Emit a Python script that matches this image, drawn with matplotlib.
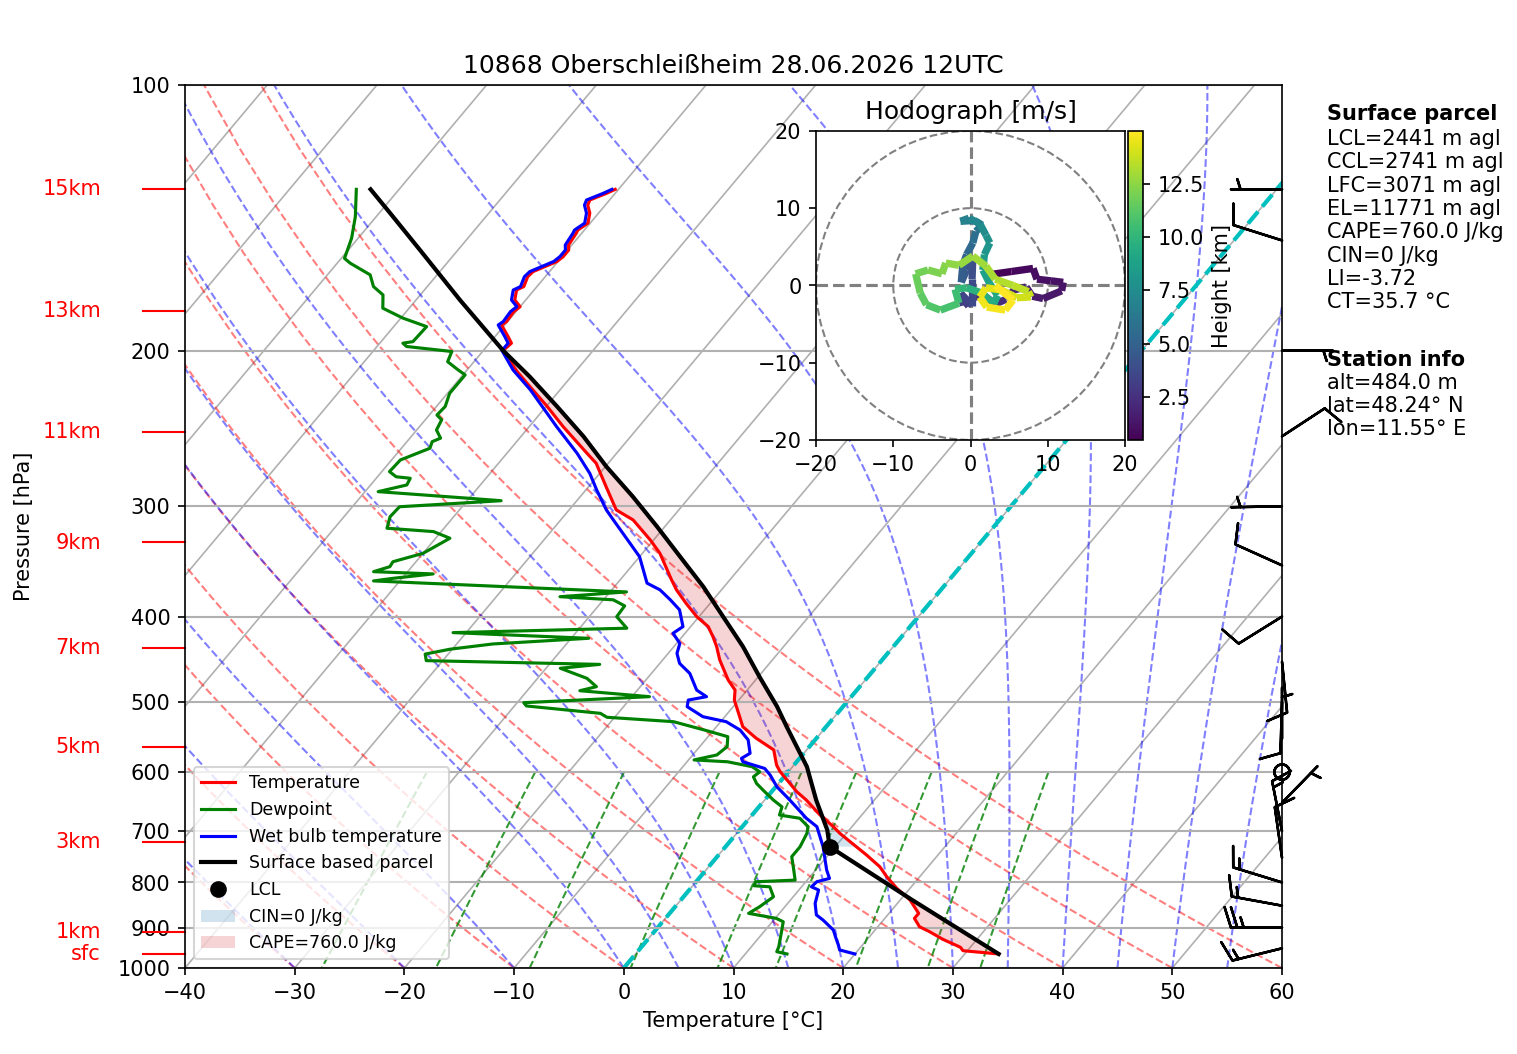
import numpy as np
import matplotlib
matplotlib.use('Agg')
import matplotlib.pyplot as plt
from matplotlib import transforms
from matplotlib.collections import LineCollection
from matplotlib.colors import Normalize
from matplotlib.lines import Line2D
from matplotlib.patches import Patch, Circle
from matplotlib.ticker import NullLocator

# sounding data (hPa, degC)
temp_p = [964.1, 955.9, 947.4, 928.0, 909.7, 898.0, 878.6, 867.2, 837.6, 812.5,
          788.3, 768.0, 744.9, 703.9, 691.8, 671.1, 645.4, 631.6, 598.9, 588.9,
          566.3, 549.3, 533.0, 514.8, 497.3, 484.5, 471.9, 447.9, 432.6, 421.5,
          410.6, 400.1, 386.4, 373.1, 363.6, 339.2, 327.6, 310.9, 302.9, 285.1,
          268.2, 261.3, 243.8, 231.3, 219.6, 211.2, 203.1, 199.9, 196.1, 192.8,
          187.0, 185.4, 180.6, 178.3, 175.2, 170.7, 169.2, 164.9, 162.7, 160.3,
          158.5, 156.5, 153.8, 151.8, 147.2, 146.0, 143.4, 139.7, 136.8, 135.0,
          132.7, 131.3]
temp_t = [33.1, 29.6, 29.1, 26.9, 25.1, 23.8, 22.7, 22.7, 20.9, 18.8,
          17.0, 15.6, 13.5, 9.4, 8.3, 6.2, 3.8, 2.3, -0.8, -1.6,
          -3.0, -5.5, -7.6, -9.0, -10.4, -11.1, -12.5, -14.8, -16.1, -17.2,
          -18.4, -20.2, -22.2, -24.1, -25.3, -28.4, -30.3, -33.4, -35.7, -38.4,
          -41.1, -42.7, -46.9, -49.9, -53.0, -55.3, -57.4, -58.2, -58.0, -58.8,
          -60.3, -60.1, -60.2, -60.0, -61.0, -61.6, -61.2, -61.6, -61.5, -60.7,
          -60.1, -59.9, -59.9, -60.3, -60.5, -60.6, -60.2, -60.8, -61.6, -61.8,
          -60.8, -60.3]

wb_p = [964.1, 954.1, 941.8, 921.6, 905.7, 882.5, 870.8, 844.9, 816.1, 809.2,
        798.7, 791.7, 774.5, 729.0, 691.8, 676.8, 645.4, 623.4, 604.7, 594.4,
        584.1, 578.9, 571.3, 551.7, 537.6, 526.1, 519.3, 505.9, 497.3, 492.9,
        484.5, 463.9, 451.9, 440.3, 429.0, 417.8, 410.6, 393.0, 382.9, 373.1,
        366.6, 342.2, 330.4, 310.9, 302.9, 287.6, 275.4, 261.3, 243.8, 221.5,
        210.3, 199.9, 196.1, 192.8, 187.0, 185.4, 180.6, 178.3, 175.2, 170.7,
        169.2, 164.9, 162.7, 160.3, 158.5, 156.5, 153.8, 151.8, 147.2, 146.0,
        143.4, 139.7, 136.8, 135.0, 132.7, 131.3]
wb_t = [20.0, 18.3, 17.8, 16.9, 16.2, 14.5, 13.5, 12.5, 11.8, 10.9,
        11.0, 11.9, 11.0, 8.9, 6.8, 5.2, 2.3, 0.1, -1.4, -2.4,
        -4.9, -5.3, -4.9, -6.1, -7.6, -9.5, -12.0, -14.2, -14.6, -13.2,
        -14.6, -16.5, -18.2, -19.2, -19.7, -21.1, -20.7, -22.3, -23.9, -25.6,
        -27.3, -30.0, -31.9, -35.2, -36.6, -39.0, -40.9, -43.6, -47.5, -52.7,
        -55.8, -58.3, -58.3, -59.1, -60.6, -60.4, -60.5, -60.3, -61.3, -61.9,
        -61.5, -61.9, -61.8, -61.0, -60.4, -60.2, -60.2, -60.6, -60.8, -60.9,
        -60.5, -61.1, -61.9, -62.1, -61.1, -60.6]

dew_p = [964.1, 958.4, 946.0, 929.6, 905.7, 886.4, 878.6, 867.2, 852.3, 830.5,
         809.2, 807.0, 798.7, 795.2, 774.5, 748.1, 729.0, 703.9, 691.8, 676.8,
         671.1, 656.9, 645.4, 628.9, 618.1, 607.4, 599.6, 591.6, 584.1, 581.3,
         573.8, 561.5, 547.1, 538.5, 526.1, 520.1, 514.8, 505.0, 500.7, 492.9,
         485.3, 480.2, 469.9, 457.7, 453.1, 448.7, 441.1, 435.5, 429.6, 423.3,
         417.1, 412.3, 400.1, 389.0, 382.9, 379.8, 375.1, 364.5, 362.0, 357.9,
         355.8, 351.2, 346.7, 339.2, 326.1, 320.5, 317.7, 308.3, 300.4, 295.7,
         293.9, 288.8, 283.8, 278.9, 277.8, 274.1, 265.9, 257.9, 253.5, 251.2,
         245.9, 239.5, 236.5, 231.3, 223.5, 213.0, 210.3, 205.8, 200.4, 197.8,
         196.1, 195.3, 187.8, 183.7, 179.0, 172.9, 169.2, 164.1, 159.2, 157.2,
         149.1, 141.0, 131.3]
dew_t = [13.8, 12.7, 12.5, 12.1, 11.5, 11.0, 10.1, 7.2, 7.7, 8.2,
         7.1, 5.6, 5.4, 8.9, 8.0, 6.8, 6.8, 6.4, 6.0, 4.6,
         2.5, 2.1, 0.8, -0.9, -2.0, -2.8, -2.6, -3.7, -6.3, -9.5,
         -7.8, -7.5, -8.2, -10.6, -14.3, -20.7, -21.6, -28.9, -29.4, -18.4,
         -25.2, -24.0, -25.5, -28.7, -25.4, -41.5, -42.1, -40.2, -36.7, -28.4,
         -41.2, -25.7, -27.5, -27.6, -29.1, -34.2, -28.5, -52.4, -50.8, -47.5,
         -53.1, -52.0, -52.1, -50.0, -48.7, -50.7, -55.2, -55.8, -55.7, -46.9,
         -49.9, -58.8, -56.7, -56.9, -58.3, -59.3, -59.2, -57.4, -57.7, -57.2,
         -58.2, -58.5, -59.3, -59.2, -59.8, -59.8, -60.8, -62.4, -62.8, -67.3,
         -67.9, -67.1, -67.0, -69.8, -72.4, -73.4, -74.9, -76.1, -78.8, -79.7,
         -80.6, -81.9, -83.9]

parcel_p = [964.1, 837.6, 729.0, 697.8, 645.4, 591.6, 533.0, 505.9, 467.9, 432.6,
            400.1, 370.0, 342.2, 316.4, 292.6, 270.6, 250.1, 231.3, 213.9, 199.9,
            175.2, 154.5, 139.7, 131.3]
parcel_t = [33.1, 21.1, 9.5, 8.0, 4.7, 1.3, -3.6, -6.0, -9.9, -13.7,
            -17.8, -21.9, -26.3, -30.7, -35.2, -39.9, -44.3, -49.0, -53.8, -58.2,
            -66.0, -73.2, -79.0, -82.6]

lcl_p, lcl_t = 729.0, 9.5
lfc_p = 665.0

# wind barbs (kt)
barb_p = [950, 900, 850, 800, 750, 700, 650, 600, 550, 500, 450, 400, 350, 300,
          250, 200, 150, 131.3]
barb_u = [14.6, 25.0, 14.8, 14.3, 1.4, 2.9, -3.5, 0.0, 0.0, 0.3, -1.0, 8.5, 9.1,
          5.0, -8.4, -5.0, 9.5, 5.0]
barb_v = [3.6, 0.0, -2.7, -4.4, -9.8, -14.7, -3.6, 0.0, -5.0, 10.0, 10.0, 5.3,
          -4.1, 0.1, -5.5, 0.0, -3.0, 0.0]

# hodograph (km, m/s)
hodo_h = [0.5, 0.7, 0.9, 1.0, 1.1, 1.2, 1.3, 1.45, 1.6, 1.8, 2.0, 2.2, 2.4, 2.6,
          2.8, 3.0, 3.3, 3.5, 3.8, 4.0, 4.3, 4.6, 4.9, 5.2, 5.5, 5.8, 6.2, 6.5,
          6.8, 7.0, 7.3, 7.6, 7.9, 8.2, 8.5, 8.8, 9.1, 9.3, 9.6, 9.9, 10.2, 10.6,
          10.9, 11.2, 11.5, 11.8, 12.0, 12.2, 12.4, 12.6, 12.8, 13.0, 13.2, 13.4,
          13.6, 13.8, 14.0, 14.2, 14.4, 14.6, 14.75, 14.85, 14.95, 15.0]
hodo_u = [2.5, 5.3, 8.1, 8.6, 10.4, 12.0, 11.8, 9.4, 8.0, 7.2, 5.6, 4.6, 3.2, 1.6,
          0.4, -0.9, -1.3, 0.2, 0.2, 0.3, -0.5, -1.2, -1.0, -0.5, 0.3, 0.7, 1.5, 0.5,
          -1.3, -0.2, 1.2, 2.0, 2.5, 1.8, 1.6, 2.5, 3.5, 3.0, 1.5, -0.5, -2.0, -1.5,
          -3.9, -5.7, -6.5, -7.1, -5.5, -3.7, -3.2, -1.5, 0.3, 2.0, 3.2, 5.5,
          7.5, 7.8, 6.0, 4.0, 2.0, 1.2, 2.1, 4.5, 5.5, 3.2]
hodo_v = [1.4, 1.8, 2.2, 0.8, 0.6, 0.4, -0.7, -1.7, -1.4, -0.2, -0.6, -1.8, -2.4, -1.2,
          -1.6, -2.6, -1.0, -2.6, 0.8, 3.6, 2.0, 0.4, 2.6, 4.0, 5.5, 7.0, 7.8, 8.4,
          8.3, 8.7, 8.0, 6.5, 5.5, 4.0, 2.0, 0.2, -1.3, -2.4, -1.0, -0.3, -0.5, -2.3,
          -3.2, -2.5, -1.0, 1.5, 2.0, 1.5, 2.9, 2.6, 3.8, 2.5, 0.8, 0.0,
          -0.8, -1.5, -1.6, -0.6, -0.3, -1.5, -2.8, -3.2, -1.9, 0.0]

height_labels = ['15km', '13km', '11km', '9km', '7km', '5km', '3km', '1km', 'sfc']
height_p = [131.2, 180.3, 247.0, 329.7, 434.5, 562.5, 719.5, 910.5, 964.1]

parcel_lines = ['LCL=2441 m agl', 'CCL=2741 m agl', 'LFC=3071 m agl',
                'EL=11771 m agl', 'CAPE=760.0 J/kg', 'CIN=0 J/kg', 'LI=-3.72',
                'CT=35.7 °C']
station_lines = ['alt=484.0 m', 'lat=48.24° N', 'lon=11.55° E']

SKEW = 67.5  # degC of x shift per decade of pressure


def skx(t, p):
    return np.asarray(t, dtype=float) + SKEW * np.log10(1000.0 / np.asarray(p, dtype=float))


def moist_lines(t0, pres):
    Rd, Cp, Lv, eps = 287.04749, 1004.6662, 2.50084e6, 0.6219569

    def dtdp(t, p):
        es = 6.112 * np.exp(17.67 * (t - 273.15) / (t - 29.65))
        rs = eps * es / (p - es)
        return (Rd * t + Lv * rs) / (Cp + Lv * Lv * rs * eps / (Rd * t * t)) / p

    t = np.asarray(t0, dtype=float) + 273.15
    out = [t.copy()]
    for i in range(1, len(pres)):
        p0, h = pres[i - 1], pres[i] - pres[i - 1]
        k1 = dtdp(t, p0)
        k2 = dtdp(t + h * k1 / 2, p0 + h / 2)
        k3 = dtdp(t + h * k2 / 2, p0 + h / 2)
        k4 = dtdp(t + h * k3, p0 + h)
        t = t + h * (k1 + 2 * k2 + 2 * k3 + k4) / 6
        out.append(t.copy())
    return np.array(out).T - 273.15


fig = plt.figure(figsize=(10.1134, 7.0274), dpi=150)
ax = fig.add_axes([0.12195, 0.08159, 0.72314, 0.83776])
ax.set_yscale('log')

# background: isotherms, dry/moist adiabats, mixing ratio lines
for t in range(-130, 61, 10):
    ax.plot(skx([t, t], [1000, 100]), [1000, 100], color='#b0b0b0', lw=0.8, zorder=0.8)

pp = np.linspace(1000, 100, 50)
for t0 in np.arange(-40, 61, 10):
    td = (t0 + 273.15) * (pp / 1000.0) ** 0.2857 - 273.15
    ax.plot(skx(td, pp), pp, color='r', ls='--', lw=1, alpha=0.5, zorder=1)

pm = np.linspace(1000, 100, 200)
t0m = np.concatenate((np.arange(-40, 0, 10), np.arange(0, 61, 5)))
for tm in moist_lines(t0m, pm):
    ax.plot(skx(tm, pm), pm, color='b', ls='--', lw=1, alpha=0.5, zorder=1)

pw = np.linspace(600, 1000, 50)
for w in [0.0004, 0.001, 0.002, 0.004, 0.007, 0.01, 0.016, 0.024, 0.032]:
    e = pw * w / (0.6219569 + w)
    le = np.log(e / 6.112)
    tdw = 243.5 * le / (17.67 - le)
    ax.plot(skx(tdw, pw), pw, color='g', ls='--', lw=1, alpha=0.8, zorder=1)

ax.plot(skx([0, 0], [1000, 100]), [1000, 100], color='c', ls='--', lw=2, zorder=1.5)

# CAPE / CIN shading
pg = np.geomspace(964.1, 131.3, 3000)
tt = np.interp(np.log(pg), np.log(temp_p[::-1]), temp_t[::-1])
tp = np.interp(np.log(pg), np.log(parcel_p[::-1]), parcel_t[::-1])
ax.fill_betweenx(pg, skx(tt, pg), skx(tp, pg), where=tp > tt, interpolate=True,
                 facecolor='tab:red', alpha=0.2, lw=0)
cin = (tp < tt) & (pg <= lcl_p) & (pg >= lfc_p)
ax.fill_betweenx(pg, skx(tt, pg), skx(tp, pg), where=cin, interpolate=True,
                 facecolor='tab:blue', alpha=0.2, lw=0)

ax.plot(skx(temp_t, temp_p), temp_p, color='red', lw=1.5)
ax.plot(skx(dew_t, dew_p), dew_p, color='green', lw=1.5)
ax.plot(skx(wb_t, wb_p), wb_p, color='blue', lw=1.5)
ax.plot(skx(parcel_t, parcel_p), parcel_p, color='black', lw=2)
ax.plot(skx([lcl_t], [lcl_p]), [lcl_p], 'ko', ms=7)

ax.barbs(np.full(len(barb_p), 60.0), barb_p, barb_u, barb_v, clip_on=False, lw=1.2, zorder=4)

ax.set_xlim(-40, 60)
ax.set_ylim(1000, 100)
ax.set_yticks(list(range(100, 1001, 100)))
ax.set_yticklabels([str(v) for v in range(100, 1001, 100)])
ax.yaxis.set_minor_locator(NullLocator())
ax.set_xticks(list(range(-40, 61, 10)))
ax.yaxis.grid(True, color='#b0b0b0', lw=1)
ax.set_xlabel('Temperature [°C]')
ax.set_ylabel('Pressure [hPa]')
ax.yaxis.set_label_coords(-0.1375, 0.5)
ax.set_title('10868 Oberschleißheim 28.06.2026 12UTC')

trans = transforms.blended_transform_factory(ax.transAxes, ax.transData)
for lab, p in zip(height_labels, height_p):
    ax.plot([-0.0383, 0], [p, p], color='red', lw=1, transform=trans, clip_on=False)
    ax.text(-0.0766, p, lab, color='red', ha='right', va='center', transform=trans)

handles = [Line2D([], [], color='red', lw=1.5, label='Temperature'),
           Line2D([], [], color='green', lw=1.5, label='Dewpoint'),
           Line2D([], [], color='blue', lw=1.5, label='Wet bulb temperature'),
           Line2D([], [], color='black', lw=2, label='Surface based parcel'),
           Line2D([], [], color='black', marker='o', ls='none', ms=7, label='LCL'),
           Patch(facecolor='tab:blue', alpha=0.2, label='CIN=0 J/kg'),
           Patch(facecolor='tab:red', alpha=0.2, label='CAPE=760.0 J/kg')]
ax.legend(handles=handles, loc='lower left', fontsize='small')

# hodograph inset
hax = fig.add_axes([0.53791, 0.58254, 0.20369, 0.29317])
for r in (10, 20):
    hax.add_patch(Circle((0, 0), r, fill=False, color='grey', ls='--', lw=1))
hax.axhline(0, color='grey', ls='--', lw=1.5)
hax.axvline(0, color='grey', ls='--', lw=1.5)
pts = np.column_stack([hodo_u, hodo_v])
segs = np.stack([pts[:-1], pts[1:]], axis=1)
hh = np.asarray(hodo_h)
lc = LineCollection(segs, cmap='viridis', norm=Normalize(0.48, 14.97), lw=3.5)
lc.set_array(0.5 * (hh[:-1] + hh[1:]))
hax.add_collection(lc)
hax.set_xlim(-20, 20)
hax.set_ylim(-20, 20)
hax.set_xticks([-20, -10, 0, 10, 20])
hax.set_yticks([-20, -10, 0, 10, 20])
hax.set_title('Hodograph [m/s]')
cax = fig.add_axes([0.74357, 0.58254, 0.00989, 0.29317])
cb = fig.colorbar(lc, cax=cax)
cb.set_label('Height [km]')

# parcel and station info
tx = 1327 / 1517
fig.text(tx, 1 - 114 / 1054, 'Surface parcel', fontweight='bold', va='center')
for i, s in enumerate(parcel_lines):
    fig.text(tx, 1 - (139 + 23.3 * i) / 1054, s, va='center')
fig.text(tx, 1 - 360 / 1054, 'Station info', fontweight='bold', va='center')
for i, s in enumerate(station_lines):
    fig.text(tx, 1 - (383 + 23.2 * i) / 1054, s, va='center')

fig.savefig('out.png', dpi=150)
